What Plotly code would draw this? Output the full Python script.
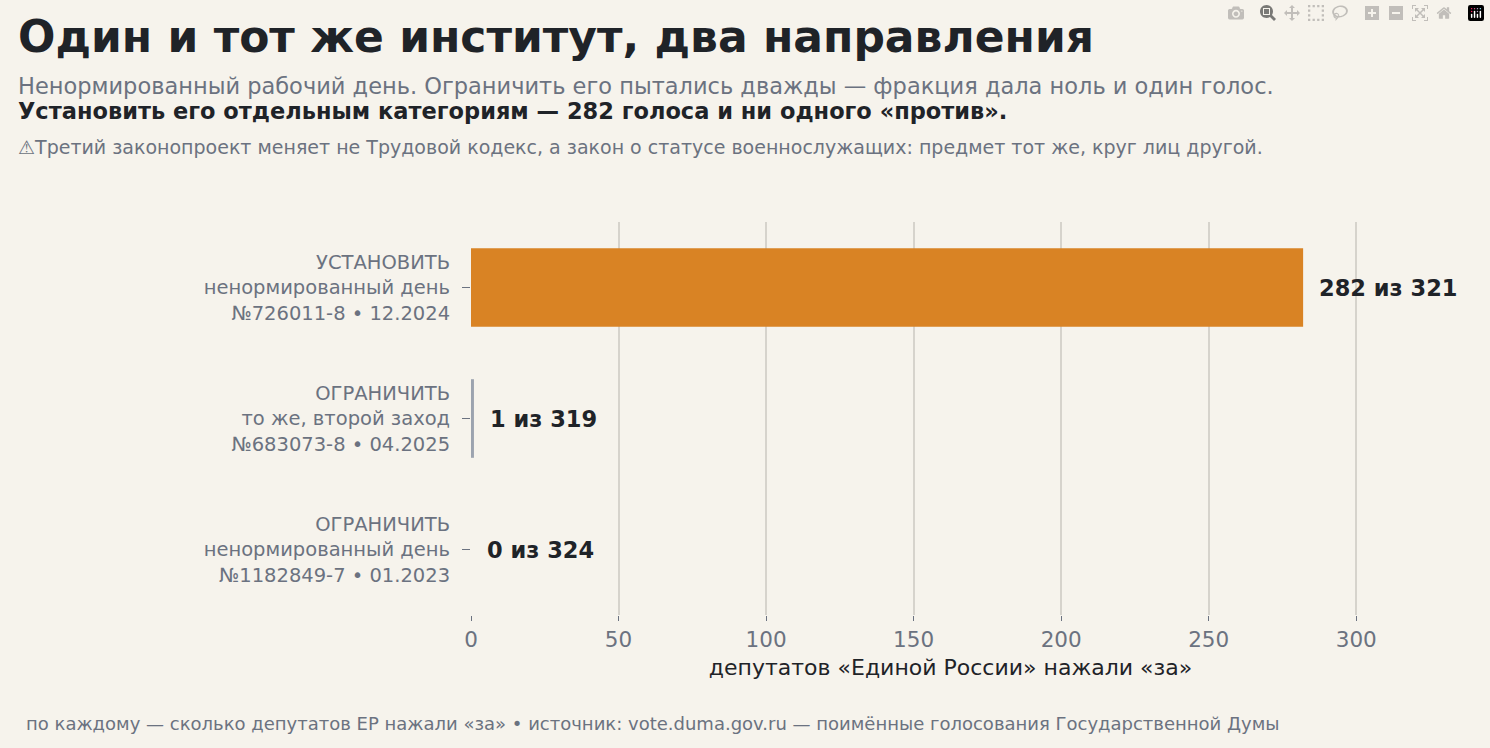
import plotly.graph_objects as go

labels = [
    "УСТАНОВИТЬ<br>ненормированный день<br>№726011-8 • 12.2024",
    "ОГРАНИЧИТЬ<br>то же, второй заход<br>№683073-8 • 04.2025",
    "ОГРАНИЧИТЬ<br>ненормированный день<br>№1182849-7 • 01.2023",
]
votes_for = [282, 1, 0]
faction_total = [321, 319, 324]
bar_colors = ["#d98324", "#9ca3af", "#9ca3af"]

BG = "#f6f3ec"
GRAY = "#6b7280"
DARK = "#1f2328"
FONT = "DejaVu Sans"

fig = go.Figure(go.Bar(
    x=votes_for, y=labels, orientation="h", width=0.6,
    marker=dict(color=bar_colors, line=dict(width=0)),
    hoverinfo="skip",
))

# value labels next to the bars
for lab, v, t in zip(labels, votes_for, faction_total):
    fig.add_annotation(x=v, y=lab, text=f"<b>{v} из {t}</b>", showarrow=False,
                       xanchor="left", xshift=14, font=dict(size=22.5, color=DARK, family=FONT))

# header and footer texts
header = [
    (1.471, "<b>Один и тот же институт, два направления</b>", 44, DARK),
    (1.346, "Ненормированный рабочий день. Ограничить его пытались дважды — фракция дала ноль и один голос.", 22.5, GRAY),
    (1.282, "<b>Установить его отдельным категориям — 282 голоса и ни одного «против».</b>", 22.5, DARK),
    (1.191, "⚠Третий законопроект меняет не Трудовой кодекс, а закон о статусе военнослужащих: предмет тот же, круг лиц другой.", 19, GRAY),
]
for y, txt, size, col in header:
    fig.add_annotation(xref="paper", yref="paper", x=-0.4745, y=y, xanchor="left", yanchor="middle",
                       text=txt, showarrow=False, font=dict(size=size, color=col, family=FONT))
fig.add_annotation(xref="paper", yref="paper", x=-0.466, y=-0.275, xanchor="left", yanchor="middle",
                   text="по каждому — сколько депутатов ЕР нажали «за» • источник: vote.duma.gov.ru — поимённые голосования Государственной Думы",
                   showarrow=False, font=dict(size=18, color=GRAY, family=FONT))

fig.update_layout(
    width=1490, height=748,
    paper_bgcolor=BG, plot_bgcolor=BG,
    margin=dict(l=471, r=60, t=222, b=133),
    showlegend=False,
    font=dict(family=FONT, color=GRAY),
    xaxis=dict(range=[0, 325], dtick=50, showgrid=True, gridcolor="#d6d3cc", gridwidth=1.5,
               zeroline=False, showline=False, ticks="outside", ticklen=5, tickcolor=GRAY,
               tickfont=dict(size=21.5, color=GRAY),
               title=dict(text="депутатов «Единой России» нажали «за»", font=dict(size=22, color=DARK), standoff=8)),
    yaxis=dict(autorange="reversed", showgrid=False, zeroline=False, showline=False,
               ticks="outside", ticklen=8, tickcolor=GRAY, ticklabelstandoff=8,
               tickfont=dict(size=19.5, color=GRAY)),
)

fig.write_html("out.html", post_script="document.body.style.margin='0';document.body.style.background='" + BG + "';")
